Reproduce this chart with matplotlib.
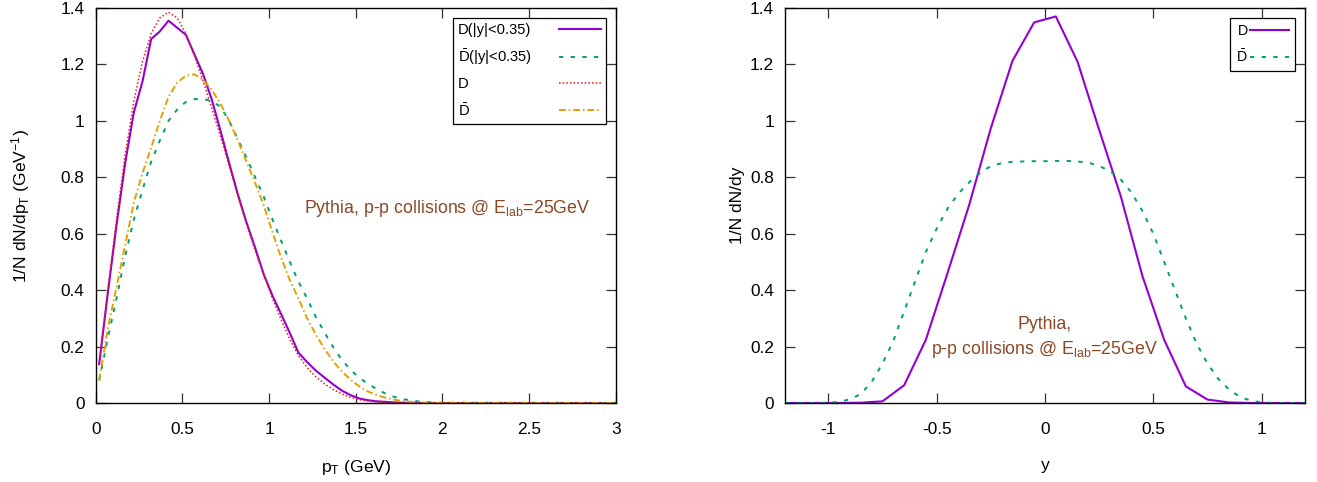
import matplotlib
matplotlib.use("Agg")
import matplotlib.pyplot as plt
from matplotlib.ticker import FuncFormatter

plt.rcParams['font.family'] = ['Liberation Sans', 'DejaVu Sans']
plt.rcParams['mathtext.fontset'] = 'custom'
plt.rcParams['mathtext.rm'] = 'Liberation Sans'
plt.rcParams['mathtext.it'] = 'Liberation Sans:italic'
plt.rcParams['mathtext.bf'] = 'Liberation Sans:bold'
plt.rcParams['mathtext.sf'] = 'Liberation Sans'

# ---------------- data: pT spectra ----------------
pt = [0.02, 0.07, 0.12, 0.17, 0.22, 0.27, 0.32, 0.37, 0.42, 0.47,
      0.52, 0.57, 0.62, 0.67, 0.72, 0.77, 0.82, 0.87, 0.92, 0.97,
      1.02, 1.07, 1.12, 1.17, 1.22, 1.27, 1.32, 1.37, 1.42, 1.47,
      1.52, 1.57, 1.62, 1.67, 1.72, 1.77, 1.82, 1.87, 1.92, 1.97,
      3.0]

d_mid = [0.138, 0.39, 0.63, 0.85, 1.03, 1.14, 1.29, 1.317, 1.355, 1.33,
         1.305, 1.235, 1.165, 1.075, 0.965, 0.85, 0.74, 0.64, 0.55, 0.455,
         0.38, 0.315, 0.248, 0.178, 0.145, 0.115, 0.09, 0.066, 0.044, 0.028,
         0.016, 0.01, 0.006, 0.004, 0.002, 0.001, 0, 0, 0, 0,
         0]

dbar_mid = [0.08, 0.23, 0.37, 0.52, 0.65, 0.755, 0.855, 0.93, 1.0, 1.04,
            1.067, 1.077, 1.078, 1.07, 1.05, 1.0, 0.935, 0.87, 0.80, 0.73,
            0.65, 0.575, 0.50, 0.43, 0.37, 0.305, 0.25, 0.198, 0.153, 0.118,
            0.09, 0.068, 0.05, 0.034, 0.022, 0.014, 0.009, 0.005, 0.003, 0.001,
            0]

d_all = [0.14, 0.40, 0.65, 0.88, 1.07, 1.21, 1.31, 1.365, 1.385, 1.365,
         1.31, 1.23, 1.14, 1.045, 0.945, 0.84, 0.735, 0.635, 0.54, 0.455,
         0.37, 0.295, 0.225, 0.168, 0.125, 0.093, 0.068, 0.048, 0.032, 0.02,
         0.012, 0.007, 0.004, 0.002, 0.001, 0, 0, 0, 0, 0,
         0]

dbar_all = [0.08, 0.265, 0.41, 0.56, 0.71, 0.815, 0.905, 1.0, 1.085, 1.135,
            1.16, 1.165, 1.145, 1.11, 1.06, 1.0, 0.93, 0.855, 0.78, 0.70,
            0.605, 0.515, 0.435, 0.37, 0.30, 0.243, 0.192, 0.148, 0.112, 0.083,
            0.059, 0.041, 0.028, 0.019, 0.012, 0.007, 0.004, 0.002, 0.001, 0,
            0]

# ---------------- data: rapidity spectra ----------------
y_d = [-1.25, -1.15, -1.05, -0.95, -0.85, -0.75, -0.65, -0.55, -0.45, -0.35,
       -0.25, -0.15, -0.05, 0.05, 0.15, 0.25, 0.35, 0.45, 0.55, 0.65,
       0.75, 0.85, 0.95, 1.05, 1.15, 1.25]
dy_d = [0, 0, 0, 0, 0.001, 0.006, 0.063, 0.224, 0.46, 0.702,
        0.974, 1.213, 1.349, 1.37, 1.21, 0.968, 0.732, 0.449, 0.224, 0.059,
        0.012, 0.002, 0, 0, 0, 0]

y_dbar = [-1.25, -1.2, -1.15, -1.1, -1.05, -1.0, -0.95, -0.9, -0.85, -0.8,
          -0.75, -0.7, -0.65, -0.6, -0.55, -0.5, -0.45, -0.4, -0.35, -0.3,
          -0.25, -0.2, -0.15, -0.1, -0.05, 0.0, 0.05, 0.1, 0.15, 0.2,
          0.25, 0.3, 0.35, 0.4, 0.45, 0.5, 0.55, 0.6, 0.65, 0.7,
          0.75, 0.8, 0.85, 0.9, 0.95, 1.0, 1.05, 1.1, 1.15, 1.2, 1.25]
dy_dbar = [0, 0, 0, 0, 0, 0.001, 0.004, 0.013, 0.032, 0.075,
           0.14, 0.22, 0.325, 0.43, 0.535, 0.618, 0.689, 0.742, 0.782, 0.815,
           0.84, 0.85, 0.855, 0.856, 0.857, 0.857, 0.858, 0.858, 0.856, 0.852,
           0.84, 0.822, 0.792, 0.745, 0.68, 0.60, 0.50, 0.40, 0.30, 0.21,
           0.14, 0.085, 0.047, 0.022, 0.008, 0.002, 0, 0, 0, 0, 0]

xt_left = [0, 0.5, 1, 1.5, 2, 2.5, 3]
xt_right = [-1, -0.5, 0, 0.5, 1]
yt = [0, 0.2, 0.4, 0.6, 0.8, 1.0, 1.2, 1.4]

lab_d_mid = 'D(|y|<0.35)'
lab_dbar_mid = r'$\bar{\mathrm{D}}$(|y|<0.35)'
lab_d = 'D'
lab_dbar = r'$\bar{\mathrm{D}}$'

C_PURPLE = '#9400D3'
C_GREEN = '#009E73'
C_RED = '#E51E10'
C_ORANGE = '#E69F00'
C_TEXT = '#8B4726'

W, H = 1317, 482
fig = plt.figure(figsize=(W / 100, H / 100), dpi=100)
ax1 = fig.add_axes([95.7 / W, (H - 403) / H, 520 / W, 395 / H])
ax2 = fig.add_axes([785 / W, (H - 403) / H, 520 / W, 395 / H])

fmt = FuncFormatter(lambda v, p: f'{v:g}')

for ax in (ax1, ax2):
    ax.tick_params(axis='both', which='major', direction='in', top=True, right=True,
                   length=7, width=0.9, labelsize=12.4, color='#333333')
    ax.tick_params(axis='x', pad=14)
    ax.tick_params(axis='y', pad=8)
    ax.xaxis.set_major_formatter(fmt)
    ax.yaxis.set_major_formatter(fmt)
    ax.set_yticks(yt)
    ax.set_ylim(0, 1.4)
    for s in ax.spines.values():
        s.set_linewidth(1.0)
        s.set_color('black')

DASH = (0, (2.2, 3.8))
DOT = (0, (1.0, 1.4))
DASHDOT = (0, (3.5, 1.5, 0.8, 1.5))

# left panel
ax1.plot(pt, d_mid, color=C_PURPLE, lw=1.5, label=lab_d_mid)
ax1.plot(pt, dbar_mid, color=C_GREEN, lw=1.4, linestyle=DASH, label=lab_dbar_mid)
ax1.plot(pt, d_all, color=C_RED, lw=1.1, linestyle=DOT, label=lab_d)
ax1.plot(pt, dbar_all, color=C_ORANGE, lw=1.4, linestyle=DASHDOT, label=lab_dbar)
ax1.set_xlim(0, 3)
ax1.set_xticks(xt_left)
ax1.set_xlabel(r'p$_\mathrm{T}$ (GeV)', fontsize=12.6)
ax1.set_ylabel(r'1/N dN/dp$_\mathrm{T}$ (GeV$^{\mathrm{-1}}$)', fontsize=12.6)
ax1.xaxis.set_label_coords(0.5, -0.14)
ax1.yaxis.set_label_coords(-0.122, 0.5)
ax1.text(2.03, 0.69, r'Pythia, p-p collisions @ E$_\mathrm{lab}$=25GeV',
         color=C_TEXT, fontsize=12.8, ha='center', va='center')

leg1 = ax1.legend(loc='upper right', bbox_to_anchor=(0.981, 0.975), markerfirst=False,
                  fontsize=10.6, handlelength=2.8, handletextpad=1.2, labelspacing=0.7,
                  borderpad=0.35, borderaxespad=0.0, fancybox=False, framealpha=1,
                  edgecolor='black')
leg1.get_frame().set_linewidth(0.9)
try:
    box = leg1._legend_handle_box
    for col in box.get_children():
        col.width = 143
        col.align = 'left'
        for row in col.get_children():
            row.mode = 'expand'
except Exception:
    pass

# right panel
ax2.plot(y_d, dy_d, color=C_PURPLE, lw=1.5, label=lab_d)
ax2.plot(y_dbar, dy_dbar, color=C_GREEN, lw=1.4, linestyle=DASH, label=lab_dbar)
ax2.set_xlim(-1.2, 1.2)
ax2.set_xticks(xt_right)
ax2.set_xlabel('y', fontsize=12.6)
ax2.set_ylabel('1/N dN/dy', fontsize=12.6)
ax2.xaxis.set_label_coords(0.5, -0.14)
ax2.yaxis.set_label_coords(-0.076, 0.5)
ax2.text(0.0, 0.277, 'Pythia,', color=C_TEXT, fontsize=12.8, ha='center', va='center')
ax2.text(0.0, 0.191, r'p-p collisions @ E$_\mathrm{lab}$=25GeV', color=C_TEXT,
         fontsize=12.8, ha='center', va='center')

leg2 = ax2.legend(loc='upper right', bbox_to_anchor=(0.981, 0.974), markerfirst=False,
                  fontsize=10.2, handlelength=2.8, handletextpad=0.15, labelspacing=0.75,
                  borderpad=0.4, borderaxespad=0.0, fancybox=False, framealpha=1,
                  edgecolor='black')
leg2.get_frame().set_linewidth(0.9)

fig.savefig('out.png', dpi=100)
